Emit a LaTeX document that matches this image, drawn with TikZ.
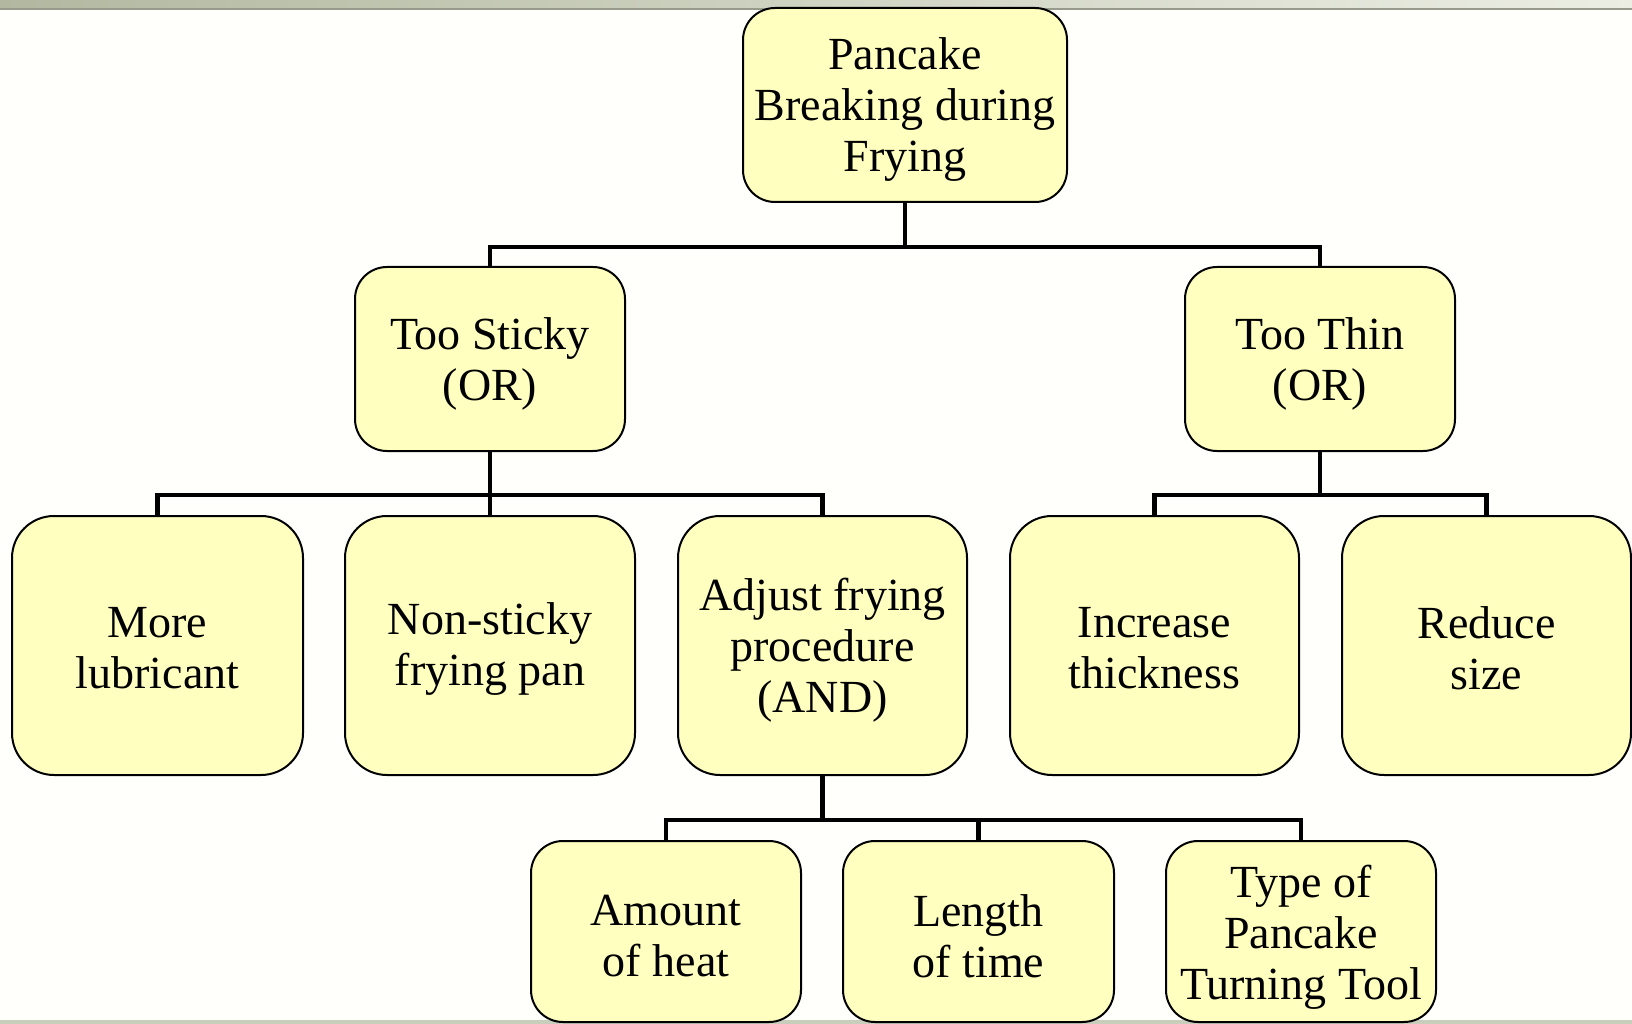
\documentclass[tikz,border=0pt]{standalone}
\usepackage{fontspec}
\setmainfont{Liberation Serif}
\begin{document}
\begin{tikzpicture}[x=1pt,y=-1pt,
  box/.style={draw=black, line width=2pt, fill=boxfill, rounded corners=32pt,
    inner sep=0pt},
  bigbox/.style={box, rounded corners=42pt},
  txt/.style={align=center, inner sep=0pt, font=\fontsize{46}{51}\selectfont},
  conn/.style={draw=black, line width=4.2pt}]
\definecolor{boxfill}{RGB}{255,255,192}
\definecolor{bandl}{RGB}{178,184,160}
\definecolor{bandr}{RGB}{236,238,228}
\definecolor{bandline}{RGB}{150,155,140}
% page and frame bands
\fill[white!99!yellow] (0,0) rectangle (1632,1024);
\shade[left color=bandl, right color=bandr] (0,0) rectangle (1632,8);
\fill[bandline] (0,8) rectangle (1632,10);
\fill[bandl!70!white] (0,1020) rectangle (1632,1024);
\useasboundingbox (0,0) rectangle (1632,1024);

% level 0
\node[box, minimum width=324pt, minimum height=194pt] (root) at (905,105) {};
% level 1
\node[box, minimum width=270pt, minimum height=184pt] (sticky) at (490,359) {};
\node[box, minimum width=270pt, minimum height=184pt] (thin) at (1320,359) {};
% level 2
\node[bigbox, minimum width=291pt, minimum height=259pt] (lub) at (157.5,645.5) {};
\node[bigbox, minimum width=290pt, minimum height=259pt] (pan) at (490,645.5) {};
\node[bigbox, minimum width=289pt, minimum height=259pt] (adjust) at (822.5,645.5) {};
\node[bigbox, minimum width=289pt, minimum height=259pt] (thick) at (1154.5,645.5) {};
\node[bigbox, minimum width=289pt, minimum height=259pt] (size) at (1486.5,645.5) {};
% level 3
\node[box, minimum width=270pt, minimum height=181pt] (heat) at (666,931.5) {};
\node[box, minimum width=271pt, minimum height=181pt] (time) at (978.5,931.5) {};
\node[box, minimum width=270pt, minimum height=181pt] (tool) at (1301,931.5) {};

% box texts
\node[txt] (troot)   at ([yshift=-5pt]root.center)   {Pancake\\Breaking during\\Frying};
\node[txt] (tsticky) at ([yshift=-5pt]sticky.center) {Too Sticky\\(OR)};
\node[txt] (tthin)   at ([yshift=-5pt]thin.center)   {Too Thin\\(OR)};
\node[txt] (tlub)    at ([yshift=-3pt]lub.center)    {More\\lubricant};
\node[txt] (tpan)    at ([yshift=-3pt]pan.center)    {Non-sticky\\frying pan};
\node[txt] (tadjust) at ([yshift=-5pt]adjust.center) {Adjust frying\\procedure\\(AND)};
\node[txt] (tthick)  at ([yshift=-3pt]thick.center)  {Increase\\thickness};
\node[txt] (tsize)   at ([yshift=-3pt]size.center)   {Reduce\\size};
\node[txt] (theat)   at ([yshift=-5pt]heat.center)   {Amount\\of heat};
\node[txt] (ttime)   at ([yshift=-5pt]time.center)   {Length\\of time};
\node[txt] (ttool)   at ([yshift=-6pt]tool.center)   {Type of\\Pancake\\Turning Tool};

% connector buses
\coordinate (bus0) at (905,247);
\coordinate (bus1) at (490,495);
\coordinate (bus2) at (1320,495);
\coordinate (bus3) at (822.5,820);

\draw[conn] (root.south) -- (bus0) -| (sticky.north);
\draw[conn] (bus0) -| (thin.north);
\draw[conn] (sticky.south) -- (bus1) -| (lub.north);
\draw[conn] (bus1) -- (pan.north);
\draw[conn] (bus1) -| (adjust.north);
\draw[conn] (thin.south) -- (bus2) -| (thick.north);
\draw[conn] (bus2) -| (size.north);
\draw[conn] (adjust.south) -- (bus3) -| (heat.north);
\draw[conn] (bus3) -| (time.north);
\draw[conn] (bus3) -| (tool.north);
\end{tikzpicture}
\end{document}
